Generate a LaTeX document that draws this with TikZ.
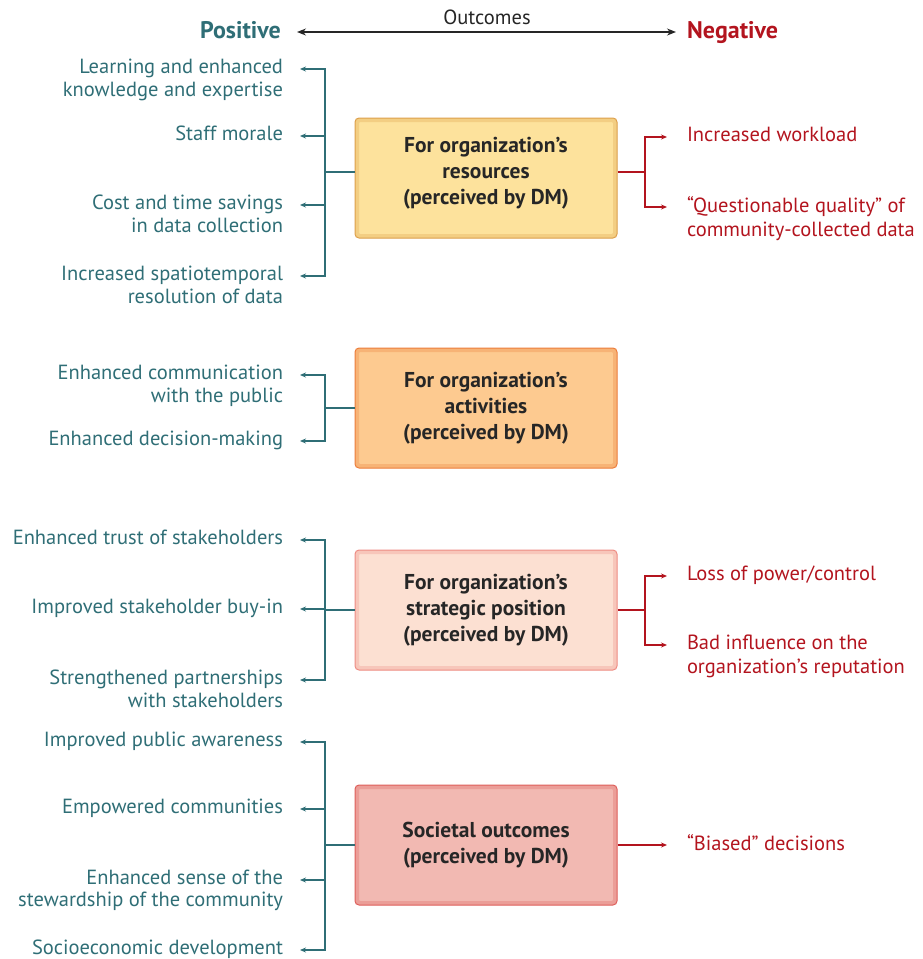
\documentclass[tikz,border=0pt]{standalone}
\usepackage{fontspec}
\setmainfont{PT Sans}
\usetikzlibrary{arrows.meta,calc}
\definecolor{tl}{HTML}{2F6E76}
\definecolor{rd}{HTML}{B3141E}
\definecolor{fA}{HTML}{FDE29C}\definecolor{bA}{HTML}{DDA04C}
\definecolor{fB}{HTML}{FDCA90}\definecolor{bB}{HTML}{EC7E3C}
\definecolor{fC}{HTML}{FCE0D2}\definecolor{bC}{HTML}{EE8C84}
\definecolor{fD}{HTML}{F2B9B2}\definecolor{bD}{HTML}{DE605C}
\begin{document}
\begin{tikzpicture}[x=1pt,y=-1pt,
  lab/.style={inner sep=0pt, outer xsep=17pt, text=tl, align=right, font=\fontsize{20.5}{22.8}\selectfont},
  nlab/.style={inner sep=0pt, outer xsep=20pt, text=rd, align=left, font=\fontsize{20.5}{23.8}\selectfont},
  tline/.style={draw=tl, line width=1.2pt},
  tarr/.style={tline, -{Stealth[length=6pt,width=5pt]}},
  rline/.style={draw=rd, line width=1.2pt},
  rarr/.style={rline, -{Stealth[length=6pt,width=5pt]}},
  box/.style={minimum width=262pt, minimum height=120pt, rounded corners=4pt},
  btext/.style={align=center, inner sep=0pt, text=black!85, font=\bfseries\fontsize{21.5}{26}\selectfont},
  glow/.style={line width=4pt, opacity=0.3, rounded corners=3pt}
]
\useasboundingbox (0,0) rectangle (923,959);

% header
\node[font=\bfseries\fontsize{24}{26}\selectfont, text=tl, anchor=base east, inner sep=0pt] (pos) at (281,38) {Positive};
\node[font=\bfseries\fontsize{24}{26}\selectfont, text=rd, anchor=base west, inner sep=0pt] (neg) at (687,38) {Negative};
\node[font=\fontsize{20.5}{22}\selectfont, text=black!85, inner sep=0pt] (outc) at (487,17) {Outcomes};
\draw[black!85, line width=1.3pt, {Stealth[length=9pt,width=7pt]}-{Stealth[length=9pt,width=7pt]}, shorten <=16pt, shorten >=11pt] (pos.east|-0,32) -- (neg.west|-0,32);

% boxes
\node[box, draw=bA, fill=fA, line width=1pt] (b1) at (486,178) {};
\node[box, draw=bB, fill=fB, line width=1pt] (b2) at (486,408) {};
\node[box, draw=bC, fill=fC, line width=1pt] (b3) at (486,610) {};
\node[box, draw=bD, fill=fD, line width=1pt] (b4) at (486,845) {};
\foreach \b/\c in {b1/bA,b2/bB,b3/bC,b4/bD}{
  \draw[glow, \c] ([shift={(2.5pt,-2.5pt)}]\b.north west) rectangle ([shift={(-2.5pt,2.5pt)}]\b.south east);
}
\node[btext] (t1) at (486,173) {For organization’s\\resources\\(perceived by DM)};
\node[btext] (t2) at (486,408) {For organization’s\\activities\\(perceived by DM)};
\node[btext] (t3) at (486,610) {For organization’s\\strategic position\\(perceived by DM)};
\node[btext] (t4) at (486,845) {Societal outcomes\\(perceived by DM)};

% junctions
\coordinate (j1) at (325,172);
\coordinate (j2) at (325,408);
\coordinate (j3) at (325,610);
\coordinate (j4) at (325,845);
\coordinate (k1) at (645,172);
\coordinate (k3) at (645,610);

% left labels
\foreach \n/\y/\t in {
  L1/69/{Learning and enhanced\\knowledge and expertise},
  L2/136/{Staff morale},
  L3/205/{Cost and time savings\\in data collection},
  L4/276/{Increased spatiotemporal\\resolution of data},
  L5/375/{Enhanced communication\\with the public},
  L6/441/{Enhanced decision-making},
  L7/540/{Enhanced trust of stakeholders},
  L8/609/{Improved stakeholder buy-in},
  L9/680/{Strengthened partnerships\\with stakeholders},
  L10/742/{Improved public awareness},
  L11/809/{Empowered communities},
  L12/880/{Enhanced sense of the\\stewardship of the community},
  L13/950/{Socioeconomic development}}{
  \node[lab, anchor=north east] (\n) at (300,\y-10.5) {\t};
  \coordinate (\n t) at ([yshift=-10.5pt]\n.north east);
}
% right labels
\foreach \n/\y/\t in {
  R1/137/{Increased workload},
  R2/207/{“Questionable quality” of\\community-collected data},
  R3/576/{Loss of power/control},
  R4/645/{Bad influence on the\\organization’s reputation},
  R5/845/{“Biased” decisions}}{
  \node[nlab, anchor=north west] (\n) at (667,\y-10.5) {\t};
  \coordinate (\n t) at ([yshift=-10.5pt]\n.north west);
}

% connectors left
\draw[tline] (b1.west|-j1) -- (j1);
\foreach \n in {L1,L2,L3,L4} \draw[tarr] (j1) |- (\n t);
\draw[tline] (b2.west|-j2) -- (j2);
\foreach \n in {L5,L6} \draw[tarr] (j2) |- (\n t);
\draw[tline] (b3.west|-j3) -- (j3);
\foreach \n in {L7,L8,L9} \draw[tarr] (j3) |- (\n t);
\draw[tline] (b4.west|-j4) -- (j4);
\foreach \n in {L10,L11,L12,L13} \draw[tarr] (j4) |- (\n t);

% connectors right
\draw[rline] (b1.east|-k1) -- (k1);
\foreach \n in {R1,R2} \draw[rarr] (k1) |- (\n t);
\draw[rline] (b3.east|-k3) -- (k3);
\foreach \n in {R3,R4} \draw[rarr] (k3) |- (\n t);
\draw[rarr] (b4.east|-R5t) -- (R5t);
\end{tikzpicture}
\end{document}
